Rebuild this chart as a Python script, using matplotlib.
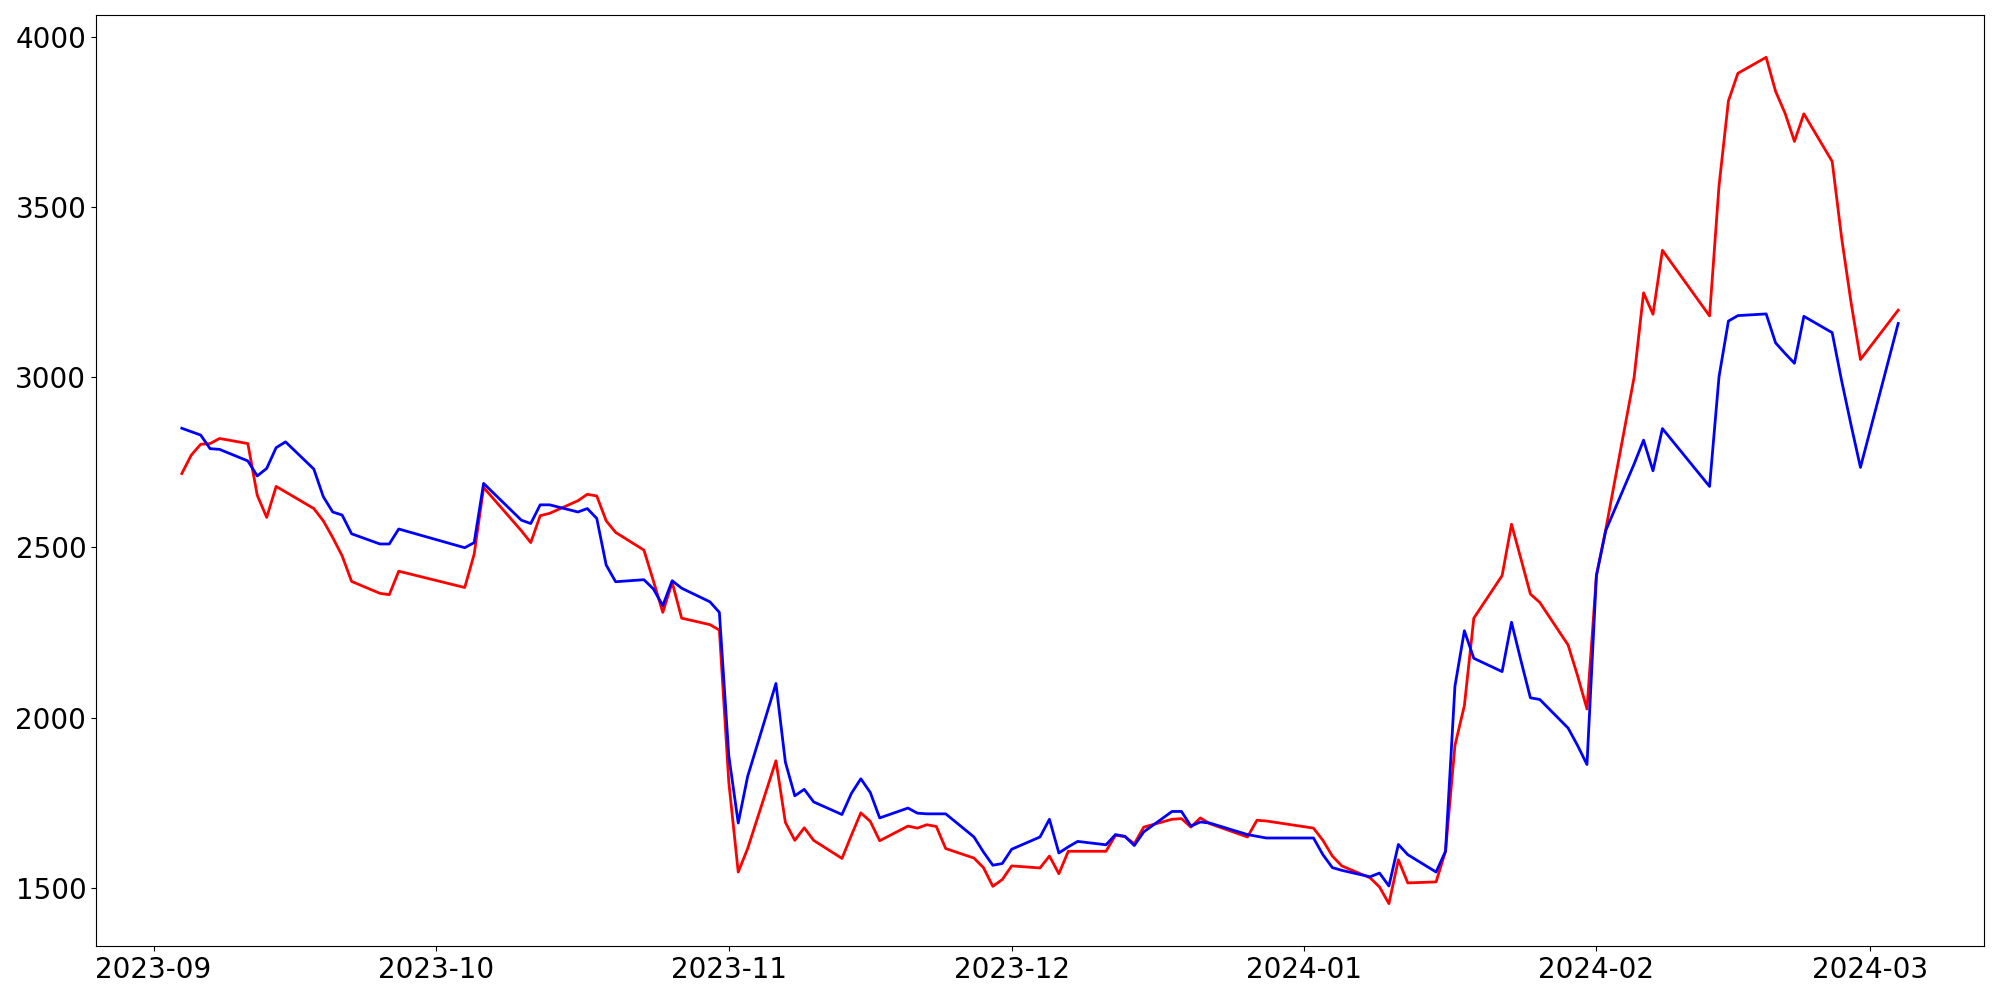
import matplotlib
matplotlib.use("Agg")
import matplotlib.pyplot as plt
import pandas as pd

# trading days shown in the chart (weekdays, exchange holidays left out)
START_DATE = "2023-09-04"
END_DATE = "2024-03-04"
HOLIDAYS = ["2023-09-28", "2023-09-29", "2023-10-02", "2023-10-03", "2023-10-09",
            "2023-12-25", "2023-12-29", "2024-01-01", "2024-02-09", "2024-02-12",
            "2024-03-01"]

red_values = [
    # Sep
    2717, 2771, 2803, 2805, 2820, 2805, 2653, 2588, 2679, 2663,
    2614, 2578, 2529, 2475, 2400, 2365, 2361, 2430,
    # Oct
    2382, 2480, 2676, 2549, 2514, 2593, 2600, 2637, 2656, 2651,
    2578, 2544, 2492, 2402, 2309, 2397, 2292, 2273, 2257,
    # Nov
    1810, 1546, 1615, 1873, 1692, 1639, 1676, 1639, 1586, 1654,
    1720, 1695, 1638, 1681, 1675, 1685, 1680, 1615, 1587, 1559,
    1504, 1524,
    # Dec
    1564, 1558, 1593, 1541, 1607, 1607, 1607, 1654, 1650, 1629,
    1678, 1701, 1703, 1678, 1705, 1688, 1649, 1698, 1696,
    # Jan
    1675, 1639, 1593, 1564, 1529, 1502, 1453, 1582, 1514, 1517,
    1607, 1918, 2035, 2292, 2417, 2568, 2466, 2363, 2338, 2213,
    2123, 2025,
    # Feb
    2417, 2554, 3000, 3248, 3185, 3373, 3180, 3562, 3812, 3893,
    3940, 3840, 3776, 3693, 3774, 3634, 3410, 3220, 3052,
    # Mar
    3197,
]

blue_values = [
    # Sep
    2850, 2840, 2830, 2790, 2788, 2754, 2710, 2732, 2793, 2810,
    2730, 2649, 2604, 2595, 2540, 2510, 2510, 2554,
    # Oct
    2499, 2514, 2688, 2580, 2570, 2625, 2625, 2604, 2614, 2585,
    2448, 2399, 2405, 2378, 2329, 2402, 2380, 2340, 2309,
    # Nov
    1888, 1690, 1827, 2100, 1869, 1770, 1789, 1752, 1715, 1777,
    1820, 1780, 1705, 1734, 1719, 1717, 1717, 1717, 1649, 1605,
    1566, 1571,
    # Dec
    1613, 1649, 1701, 1602, 1620, 1636, 1626, 1656, 1651, 1624,
    1664, 1724, 1724, 1681, 1693, 1690, 1656, 1651, 1646,
    # Jan
    1646, 1597, 1559, 1551, 1532, 1543, 1505, 1627, 1597, 1546,
    1607, 2092, 2255, 2174, 2135, 2280, 2167, 2058, 2053, 1969,
    1918, 1862,
    # Feb
    2417, 2550, 2745, 2815, 2725, 2849, 2679, 3001, 3165, 3181,
    3186, 3101, 3070, 3041, 3179, 3131, 2990, 2860, 2735,
    # Mar
    3158,
]


def build_frame():
    dates = pd.bdate_range(START_DATE, END_DATE, freq="C", holidays=HOLIDAYS)
    return pd.DataFrame({"red": red_values, "blue": blue_values}, index=dates)


def draw(df):
    fig, ax = plt.subplots(figsize=(20, 10), dpi=100)
    fig.subplots_adjust(left=0.048, right=0.992, top=0.985, bottom=0.054)

    ax.plot(df.index, df["red"], color="red", linewidth=2)
    ax.plot(df.index, df["blue"], color="blue", linewidth=2)

    ax.tick_params(axis="both", labelsize=20)

    fig.savefig("out.png")


draw(build_frame())
